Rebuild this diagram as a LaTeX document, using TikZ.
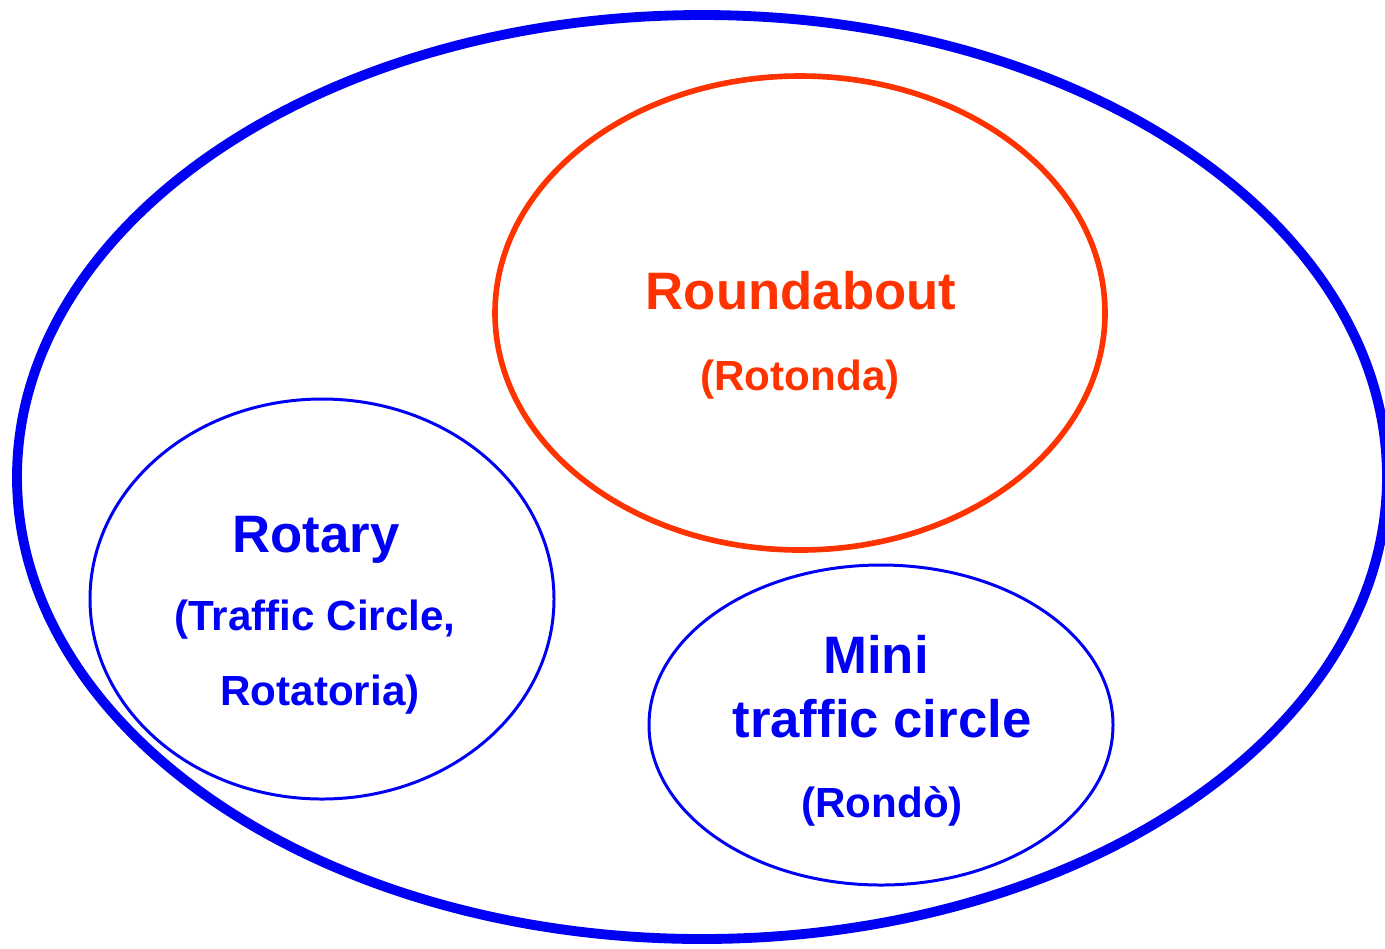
\documentclass[tikz,border=0pt]{standalone}
\usepackage{fontspec}
\setmainfont{Liberation Sans}
\usepackage{tikz}
\definecolor{setblue}{RGB}{0,0,245}
\definecolor{setred}{RGB}{255,51,0}
\tikzset{
	big/.style = {font=\fontsize{30}{36}\selectfont\bfseries, anchor=base},
	small/.style = {font=\fontsize{24}{29}\selectfont\bfseries, anchor=base}
}

\begin{document}
\begin{tikzpicture}[x=0.02cm, y=-0.02cm]
	\useasboundingbox (0,0) rectangle (1385,948);
	\clip (0,0) rectangle (1385,948);
	% sets
	\draw[setblue, line width=5.6pt] (702,477) ellipse [x radius=685, y radius=462];
	\draw[setred, line width=3.2pt] (800,313) ellipse [x radius=305, y radius=237];
	\draw[setblue, line width=1.7pt] (322,599) ellipse [x radius=232, y radius=200];
	\draw[setblue, line width=1.7pt] (881,725) ellipse [x radius=232, y radius=160];
	% labels
	\node[big, setred] (round) at (801,309) {Roundabout};
	\node[small, setred] (roundit) at (800,390) {(Rotonda)};
	\node[big, setblue] (rot) at (316,552) {Rotary};
	\node[small, setblue] (rotit) at (315,630) {(Traffic Circle,};
	\node[small, setblue] (rotit2) at (320,705) {Rotatoria)};
	\node[big, setblue] (mini) at (876,673) {Mini};
	\node[big, setblue] (mini2) at (882,737) {traffic circle};
	\node[small, setblue] (miniit) at (882,817) {(Rondò)};
\end{tikzpicture}
\end{document}
